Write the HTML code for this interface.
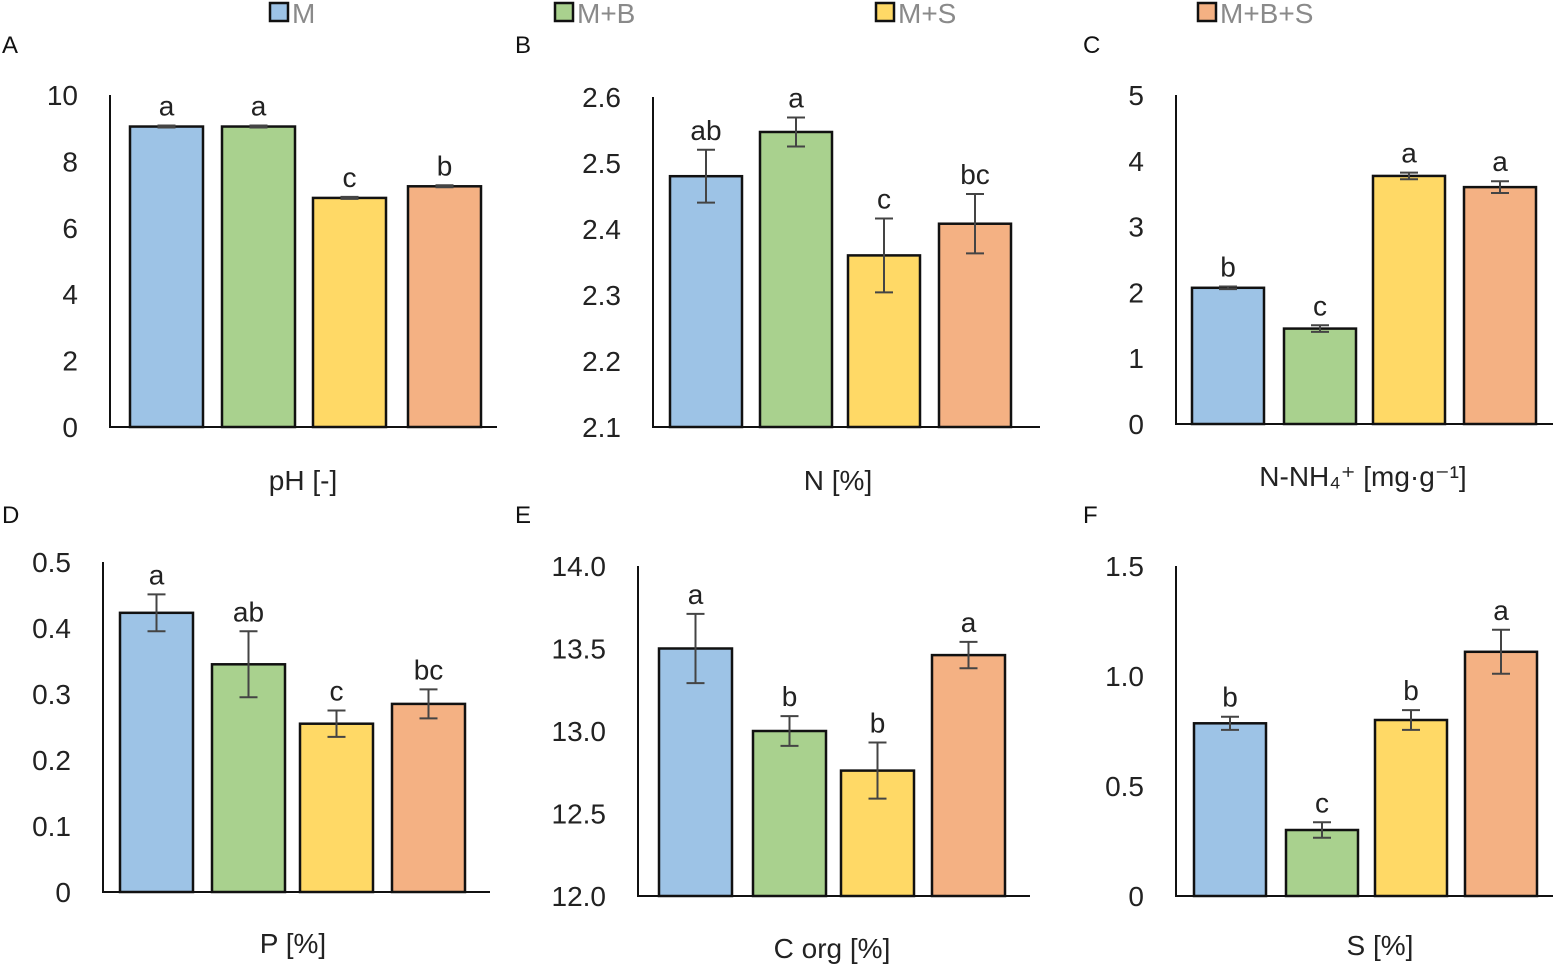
<!DOCTYPE html>
<html><head><meta charset="utf-8"><style>
body{margin:0;background:#fff;width:1555px;height:967px;overflow:hidden;font-family:"Liberation Sans",sans-serif}
svg text{font-family:"Liberation Sans",sans-serif}
</style></head><body>
<svg id="c" width="1555" height="967" xmlns="http://www.w3.org/2000/svg"></svg>
<script>
const series=["M","M+B","M+S","M+B+S"];
const colors=["#9dc3e6","#a9d18e","#ffd966","#f4b183"];
const titles=["pH [-]","N [%]","N-NH\u2084\u207A [mg\u00B7g\u207B\u00B9]","P [%]","C org [%]","S [%]"];
const letters=["A","B","C","D","E","F"];
const valsA=[9.05,9.05,6.9,7.25], errA=[0.03,0.03,0.03,0.03], sigA=["a","a","c","b"], ticksA=["0","2","4","6","8","10"];
const valsB=[2.48,2.547,2.36,2.408], errB=[0.04,0.022,0.056,0.045], sigB=["ab","a","c","bc"], ticksB=["2.1","2.2","2.3","2.4","2.5","2.6"];
const valsC=[2.07,1.45,3.77,3.6], errC=[0.02,0.05,0.05,0.09], sigC=["b","c","a","a"], ticksC=["0","1","2","3","4","5"];
const valsD=[0.423,0.345,0.255,0.285], errD=[0.028,0.05,0.02,0.022], sigD=["a","ab","c","bc"], ticksD=["0","0.1","0.2","0.3","0.4","0.5"];
const valsE=[13.5,13.0,12.76,13.46], errE=[0.21,0.09,0.17,0.08], sigE=["a","b","b","a"], ticksE=["12.0","12.5","13.0","13.5","14.0"];
const valsF=[0.785,0.3,0.8,1.11], errF=[0.03,0.035,0.045,0.1], sigF=["b","c","b","a"], ticksF=["0","0.5","1.0","1.5"];
const panels=[
 {v:valsA,e:errA,s:sigA,t:ticksA,ax:110,top:95,bot:427,right:497,bx:[130,222,313,408],bw:73,lx:303,ly:490,L:[2,53]},
 {v:valsB,e:errB,s:sigB,t:ticksB,ax:653,top:97,bot:427,right:1040,bx:[670,760,848,939],bw:72,lx:838,ly:490,L:[515,53]},
 {v:valsC,e:errC,s:sigC,t:ticksC,ax:1176,top:95,bot:424,right:1553,bx:[1192,1284,1373,1464],bw:72,lx:1363,ly:486,L:[1083,53]},
 {v:valsD,e:errD,s:sigD,t:ticksD,ax:103,top:562,bot:892,right:490,bx:[120,212,300,392],bw:73,lx:293,ly:953,L:[2,523]},
 {v:valsE,e:errE,s:sigE,t:ticksE,ax:638,top:566,bot:896,right:1030,bx:[659,753,841,932],bw:73,lx:832,ly:958,L:[515,523]},
 {v:valsF,e:errF,s:sigF,t:ticksF,ax:1176,top:566,bot:896,right:1553,bx:[1194,1286,1375,1465],bw:72,lx:1380,ly:955,L:[1083,523]}
];
const NS="http://www.w3.org/2000/svg",svg=document.getElementById("c");
function mk(tag,at,txt,parent){const el=document.createElementNS(NS,tag);for(const k in at)el.setAttribute(k,at[k]);if(txt!=null)el.textContent=txt;(parent||svg).appendChild(el);return el;}
const lx=[270,555,876,1198];
series.forEach((s,i)=>{
 const g=mk("g",{});
 
 
 mk("rect",{x:lx[i],y:3,width:18,height:18,fill:colors[i],stroke:"#111","stroke-width":2.5},null,g);
 mk("text",{x:lx[i]+22,y:23,"font-size":28,fill:"#8a8a8a"},s,g);
});
panels.forEach((p,pi)=>{
 const g=mk("g",{});
 
 
 const tmin=parseFloat(p.t[0]),tmax=parseFloat(p.t[p.t.length-1]);
 const y=v=>p.bot-(v-tmin)/(tmax-tmin)*(p.bot-p.top);
 const lt=mk("text",{x:p.L[0],y:p.L[1],"font-size":24,fill:"#111"},letters[pi],g);
 
 
 p.t.forEach(t=>{
  const tx=mk("text",{x:p.ax-32,y:y(parseFloat(t))+10,"font-size":28,fill:"#222","text-anchor":"end"},t,g);
  
  
 });
 p.v.forEach((v,i)=>{
  const x=p.bx[i];
  const r=mk("rect",{x:x,y:y(v),width:p.bw,height:p.bot-y(v),fill:colors[i],stroke:"#111","stroke-width":2.5},null,g);
  
  
  const cx=x+p.bw/2,y1=y(v+p.e[i]),y2=y(v-p.e[i]);
  const eb=mk("path",{d:`M${cx},${y1}V${y2}M${cx-9},${y1}H${cx+9}M${cx-9},${y2}H${cx+9}`,stroke:"#444","stroke-width":2,fill:"none"},null,g);
  
  
  const st=mk("text",{x:cx,y:y1-10,"font-size":28,fill:"#222","text-anchor":"middle"},p.s[i],g);
  
  
 });
 const ax=mk("path",{d:`M${p.ax},${p.top}V${p.bot}H${p.right}`,stroke:"#111","stroke-width":2,fill:"none"},null,g);
 
 
 const xt=mk("text",{x:p.lx,y:p.ly,"font-size":28,fill:"#222","text-anchor":"middle"},titles[pi],g);
 
 
});
</script>
</body></html>
